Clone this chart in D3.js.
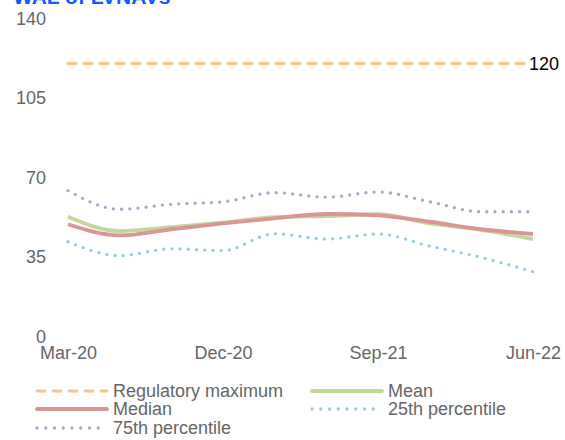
<!DOCTYPE html>
<html>
<head>
<meta charset="utf-8">
<script src="https://cdn.jsdelivr.net/npm/d3@7/dist/d3.min.js"></script>
<style>
  html, body { margin: 0; padding: 0; background: #fff; }
  svg { display: block; font-family: "Liberation Sans", Arial, sans-serif; }
</style>
</head>
<body>
<svg id="chart" width="565" height="440"></svg>
<script>
const quarters = ["Mar-20","Jun-20","Sep-20","Dec-20","Mar-21","Jun-21","Sep-21","Dec-21","Mar-22","Jun-22"];
const xTickLabels = ["Mar-20","Dec-20","Sep-21","Jun-22"];
const yTicks = [0, 35, 70, 105, 140];
const regulatoryMaximum = [120,120,120,120,120,120,120,120,120,120];
const meanValues   = [52.5, 46.2, 47.9, 49.9, 52.3, 52.8, 53.6, 49.6, 46.7, 42.7];
const medianValues = [49.2, 44.3, 47.0, 49.6, 51.8, 53.7, 53.1, 50.3, 47.0, 44.9];
const p25Values    = [41.5, 35.4, 38.4, 37.6, 45.0, 42.7, 44.9, 39.6, 34.6, 28.3];
const p75Values    = [64.0, 55.8, 58.0, 59.1, 63.1, 61.1, 63.4, 59.1, 54.7, 54.7];
const regMaxLabel = "120";

const svg = d3.select("#chart");
const x = d3.scalePoint().domain(quarters).range([68, 533]);
const y = d3.scaleLinear().domain([0, 140]).range([336, 18]);

const grey = "#666666";

// Title (partially clipped at top)
svg.append("text").attr("x", 13).attr("y", 3.5)
  .attr("font-size", 21).attr("font-weight", "bold").attr("fill", "#1259ff")
  .text("WAL of LVNAVs");

// Y axis
const yAxis = svg.append("g").attr("transform", "translate(46,0)")
  .call(d3.axisLeft(y).tickValues(yTicks).tickSize(0).tickPadding(0));
yAxis.select(".domain").remove();
yAxis.attr("font-family", null).attr("font-size", null);
yAxis.selectAll("text").attr("font-size", 18).attr("fill", grey).attr("dy", "0.35em");

// X axis
const xAxis = svg.append("g").attr("transform", "translate(0,353)")
  .call(d3.axisBottom(x).tickValues(xTickLabels).tickSize(0).tickPadding(0));
xAxis.select(".domain").remove();
xAxis.attr("font-family", null).attr("font-size", null);
xAxis.selectAll("text").attr("font-size", 18).attr("fill", grey)
  .attr("y", 0).attr("dy", "0.35em");

const series = [
  {name: "Regulatory maximum", values: regulatoryMaximum, color: "#fac48f", width: 3, dash: "8 8", cap: "round"},
  {name: "Mean", values: meanValues, color: "#c3d69b", width: 3.8, dash: null, cap: "butt"},
  {name: "Median", values: medianValues, color: "#d99694", width: 3.8, dash: null, cap: "butt"},
  {name: "25th percentile", values: p25Values, color: "#93cddd", width: 3.3, dash: "0 8.2", cap: "round"},
  {name: "75th percentile", values: p75Values, color: "#b3a2c7", width: 3.3, dash: "0 8.2", cap: "round"}
];

const line = d3.line()
  .x((d, i) => x(quarters[i]))
  .y(d => y(d))
  .curve(d3.curveMonotoneX);

// draw order: reg max, 75th, 25th, mean, median
const drawOrder = [0, 4, 3, 1, 2];
drawOrder.forEach(k => {
  const s = series[k];
  const vals = s.values;
  let path;
  if (k === 0) {
    path = svg.append("line")
      .attr("x1", x(quarters[0])).attr("x2", x(quarters[quarters.length - 1]) - 6)
      .attr("y1", y(vals[0])).attr("y2", y(vals[vals.length - 1]));
  } else {
    path = svg.append("path").attr("d", line(vals)).attr("fill", "none");
  }
  path.attr("stroke", s.color).attr("stroke-width", s.width)
    .attr("stroke-linecap", s.cap);
  if (s.dash) path.attr("stroke-dasharray", s.dash);
});

// Label for regulatory maximum
svg.append("text")
  .attr("x", x(quarters[quarters.length - 1]) - 4)
  .attr("y", y(regulatoryMaximum[regulatoryMaximum.length - 1]))
  .attr("dy", "0.35em").attr("font-size", 18).attr("fill", "#000")
  .text(regMaxLabel);

// Legend
const legendItems = [
  {s: series[0], x: 37, y: 391},
  {s: series[1], x: 312, y: 391},
  {s: series[2], x: 37, y: 409},
  {s: series[3], x: 312, y: 409},
  {s: series[4], x: 37, y: 428}
];
legendItems.forEach(it => {
  const s = it.s;
  const ln = svg.append("line")
    .attr("x1", it.x).attr("x2", it.x + 70)
    .attr("y1", it.y).attr("y2", it.y)
    .attr("stroke", s.color).attr("stroke-width", s.width)
    .attr("stroke-linecap", s.cap === "butt" ? "round" : s.cap);
  if (s.dash) ln.attr("stroke-dasharray", s.dash === "8 8" ? "8 8" : "0 8.75");
  svg.append("text")
    .attr("x", it.x + 76).attr("y", it.y)
    .attr("dy", "0.35em").attr("font-size", 18).attr("fill", grey)
    .text(s.name);
});
</script>
</body>
</html>
